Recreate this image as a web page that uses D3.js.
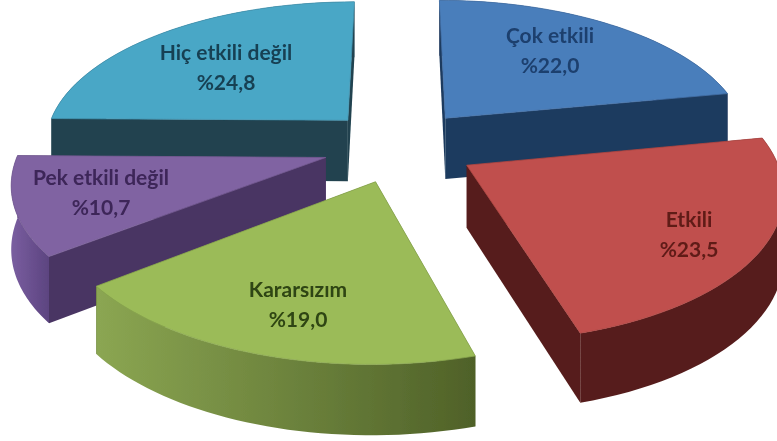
<!DOCTYPE html>
<html><head><meta charset="utf-8">
<script src="https://cdn.jsdelivr.net/npm/d3@7/dist/d3.min.js"></script>
<style>html,body{margin:0;padding:0;background:#fff}svg{display:block}
text{font-family:Lato,"Open Sans",sans-serif;font-weight:700;font-size:21px;text-anchor:middle}</style>
</head><body><svg id="c" width="777" height="441"></svg>
<script>
const categories=["Çok etkili","Etkili","Kararsızım","Pek etkili değil","Hiç etkili değil"];
const values=[22.0,23.5,19.0,10.7,24.8];
const valueLabels=["%22,0","%23,5","%19,0","%10,7","%24,8"];
const topColors=["#4a7ebb","#c0504d","#9bbb59","#8064a2","#4aa7c6"];
const cutColors=["#1f3b5e","#561d1b","#4f6328","#4a3563","#20424f"];
const wallLight=["#1f3b5e","#561d1b","#8ba652","#7a5ea0","#20424f"];
const wallDark=["#1f3b5e","#561c1b","#4f6128","#5c4480","#20424f"];
const textColors=["#1d3f6e","#5e1a18","#2f4512","#3c2558","#173f52"];
// layout
const cx=399,cy=145,fX=305,gY=143,persp=0.15,depth=62,depthPersp=0.1;
const pull=[[0.245,0.25],[0.255,0.265],[0.24,0.26],[0.25,0.27],[0.245,0.25]];
const labelPos=[[550,36],[689,220],[298,290],[101,178],[226,53]];
const drawOrder=[4,0,3,1,2];

const svg=d3.select("#c");
const defs=svg.append("defs");
defs.append("filter").attr("id","soft").append("feGaussianBlur").attr("stdDeviation",0.7);
const tf=defs.append("filter").attr("id","softT");
tf.append("feGaussianBlur").attr("stdDeviation",0.5);

const arcs=d3.pie().sort(null).value(d=>d)(values);
function project(X,Y,Z){const w=1+persp*Y;return [cx+fX*X/w,cy-gY*Y/w+Z*depth/(1+depthPersp*Y)];}
const line=d3.line();
const g=svg.append("g").attr("filter","url(#soft)");
drawOrder.forEach(i=>{
  const a=arcs[i],mid=(a.startAngle+a.endAngle)/2;
  const ox=pull[i][0]*Math.sin(mid),oy=pull[i][1]*Math.cos(mid);
  const P=(r,t,z)=>project(ox+r*Math.sin(t),oy+r*Math.cos(t),z);
  const ts=d3.range(0,41).map(k=>a.startAngle+(a.endAngle-a.startAngle)*k/40);
  const apexT=P(0,0,0),apexB=P(0,0,1);
  [a.startAngle,a.endAngle].forEach(t=>{
    g.append("path").attr("d",line([apexT,P(1,t,0),P(1,t,1),apexB])+"Z").attr("fill",cutColors[i]);
  });
  const xs=ts.map(t=>P(1,t,0)[0]);
  const gid="wall"+i;
  const lg=defs.append("linearGradient").attr("id",gid).attr("gradientUnits","userSpaceOnUse")
    .attr("x1",d3.min(xs)).attr("x2",d3.max(xs)).attr("y1",0).attr("y2",0);
  lg.append("stop").attr("offset",0).attr("stop-color",wallLight[i]);
  lg.append("stop").attr("offset",1).attr("stop-color",wallDark[i]);
  const pts=ts.map(t=>P(1,t,0)).concat(ts.slice().reverse().map(t=>P(1,t,1)));
  g.append("path").attr("d",line(pts)+"Z").attr("fill",`url(#${gid})`);
  g.append("path").attr("d",line([apexT].concat(ts.map(t=>P(1,t,0))))+"Z")
    .attr("fill",topColors[i]).attr("stroke",d3.color(topColors[i]).darker(0.3)).attr("stroke-width",0.8);
});
const tg=svg.append("g").attr("filter","url(#softT)");
categories.forEach((c,i)=>{
  tg.append("text").attr("x",labelPos[i][0]).attr("y",labelPos[i][1]+7).attr("fill",textColors[i]).text(c);
  tg.append("text").attr("x",labelPos[i][0]).attr("y",labelPos[i][1]+37).attr("fill",textColors[i]).text(valueLabels[i]);
});
</script></body></html>
